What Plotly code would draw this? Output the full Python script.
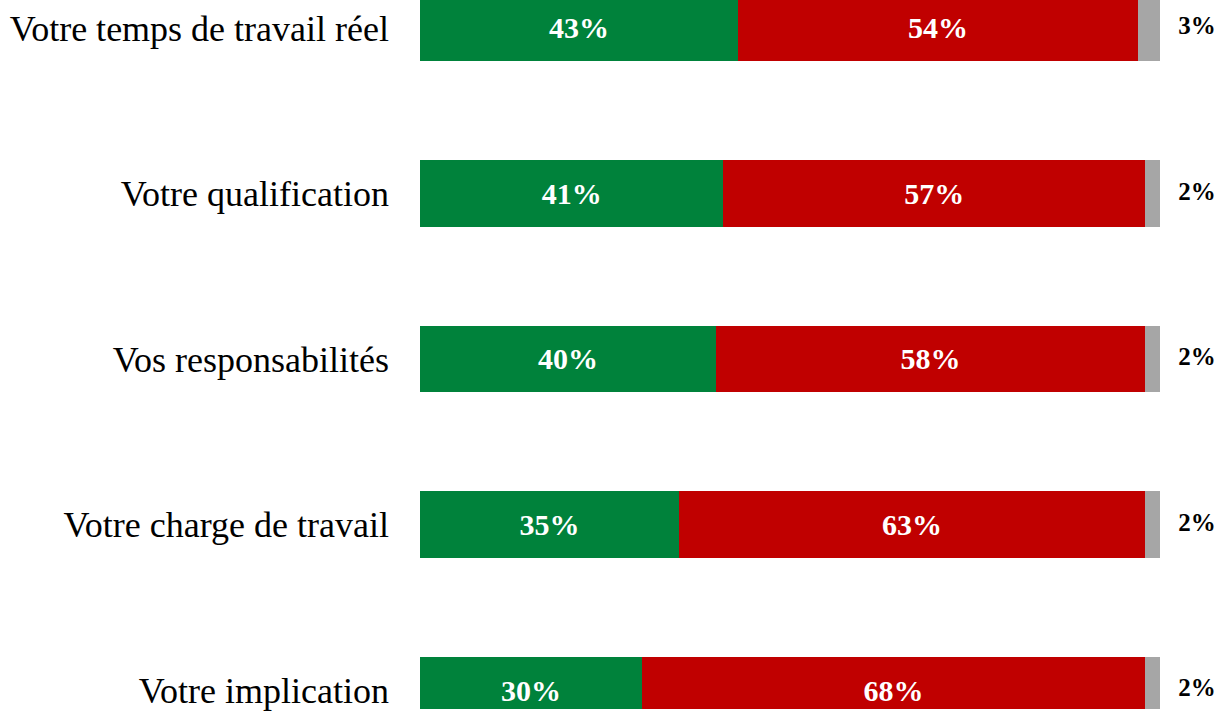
import plotly.graph_objects as go

# data
categories = ["Votre temps de travail réel", "Votre qualification", "Vos responsabilités",
              "Votre charge de travail", "Votre implication"]
oui = [43, 41, 40, 35, 30]
non = [54, 57, 58, 63, 68]
nsp = [3, 2, 2, 2, 2]

FONT = "Palatino Linotype, Book Antiqua, Palatino, Liberation Serif, serif"
GREEN = "#00823B"
RED = "#C00000"
GREY = "#A6A6A6"

fig = go.Figure()

fig.add_trace(go.Bar(
    y=categories, x=oui, orientation="h", marker=dict(color=GREEN, line=dict(width=0)),
    text=[f"{v}%" for v in oui], textposition="inside", insidetextanchor="middle",
    textfont=dict(family=FONT, size=30, color="white", weight="bold"), width=0.4,
))
fig.add_trace(go.Bar(
    y=categories, x=non, orientation="h", marker=dict(color=RED, line=dict(width=0)),
    text=[f"{v}%" for v in non], textposition="inside", insidetextanchor="middle",
    textfont=dict(family=FONT, size=30, color="white", weight="bold"), width=0.4,
))
fig.add_trace(go.Bar(
    y=categories, x=nsp, orientation="h", marker=dict(color=GREY, line=dict(width=0)),
    width=0.4, textposition="none",
))

# labels of the grey segment, to the right of the bar
totals = [a + b + c for a, b, c in zip(oui, non, nsp)]
fig.add_trace(go.Scatter(
    y=categories, x=[t + 5.0 for t in totals], mode="text",
    text=[f"{v}%" for v in nsp], textposition="middle center",
    textfont=dict(family=FONT, size=25, color="black", weight="bold"),
))

fig.update_layout(
    width=1220, height=711,
    barmode="stack",
    showlegend=False,
    plot_bgcolor="white", paper_bgcolor="white",
    margin=dict(l=420, r=0, t=0, b=0),
    uniformtext=dict(mode=False),
)
fig.update_xaxes(range=[0, 800 / 7.4], visible=False, fixedrange=True)
fig.update_yaxes(
    type="category", categoryorder="array", categoryarray=categories,
    range=[4 + 19 / 166, -28 / 166],
    showgrid=False, showline=False, zeroline=False, ticks="",
    ticklabelstandoff=30,
    tickfont=dict(family=FONT, size=36, color="black"),
)

# no page margin around the figure
fig.write_html("out.html", config={"displayModeBar": False},
               post_script="document.body.style.margin='0';")
